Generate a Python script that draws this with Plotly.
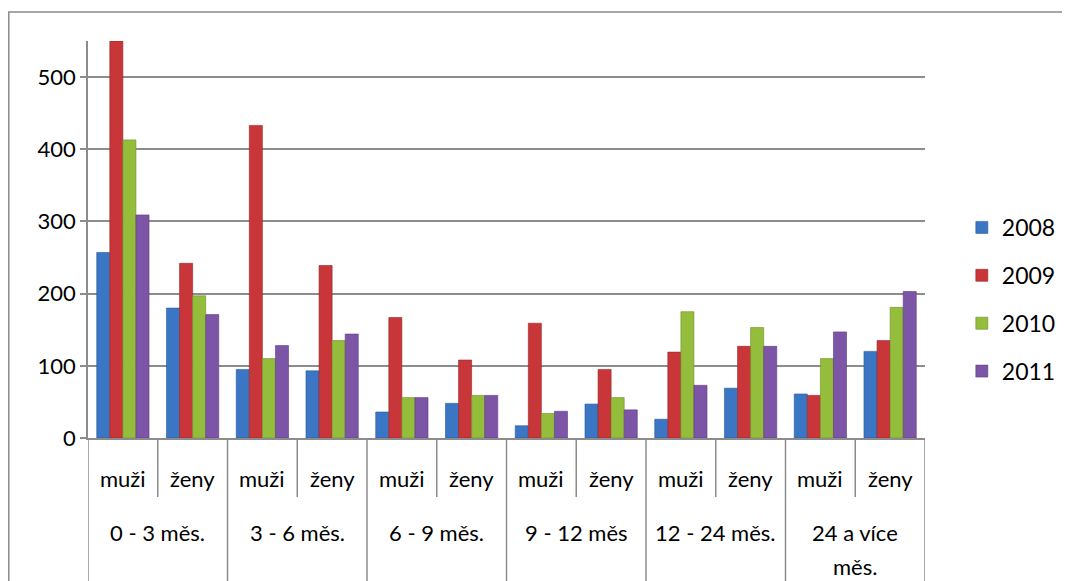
import plotly.graph_objects as go

groups = ["0 - 3 měs.", "3 - 6 měs.", "6 - 9 měs.", "9 - 12 měs", "12 - 24 měs.", "24 a více měs."]
group_lines = [["0 - 3 měs."], ["3 - 6 měs."], ["6 - 9 měs."], ["9 - 12 měs"], ["12 - 24 měs."], ["24 a více", "měs."]]
sexes = ["muži", "ženy"]
years = ["2008", "2009", "2010", "2011"]

v2008 = [257, 180, 95, 93, 36, 48, 17, 47, 26, 69, 61, 120]
v2009 = [550, 242, 433, 239, 167, 108, 159, 95, 119, 127, 59, 135]
v2010 = [413, 197, 110, 135, 56, 59, 34, 56, 175, 153, 110, 181]
v2011 = [309, 171, 128, 144, 56, 59, 37, 39, 73, 127, 147, 203]

colors = ["#3A76C3", "#C8363A", "#93BD3A", "#7D55A6"]
lines = ["#2A5A98", "#962628", "#6E8F2A", "#5C3E7E"]
GRID = "#8C8C8C"
FONT = "Lato"
FS = 22

cats = [f"{g} | {s}" for g in groups for s in sexes]
inner = [s for _ in groups for s in sexes]

fig = go.Figure()
for i, (name, vals) in enumerate(zip(years, [v2008, v2009, v2010, v2011])):
    fig.add_trace(go.Bar(
        x=cats, y=vals, name=name,
        marker=dict(color=colors[i], line=dict(color=lines[i], width=0.6)),
        legendgroup=name,
    ))

# page body has an 8px margin: figure drawn at (8,8)
W, H = 1062, 573
L, R, T, B = 80, 145, 33, 143
PH = H - T - B  # plot height in px
PW = W - L - R

fig.update_layout(
    width=W, height=H,
    margin=dict(l=L, r=R, t=T, b=B, autoexpand=False),
    paper_bgcolor="white", plot_bgcolor="white",
    barmode="group", bargap=0.25, bargroupgap=0.0,
    font=dict(family=FONT, size=FS, color="black"),
    showlegend=True,
    legend=dict(x=1.044, y=0.349, xanchor="left", yanchor="middle",
                tracegroupgap=15, font=dict(size=23, family=FONT),
                itemwidth=30, bgcolor="rgba(0,0,0,0)"),
    xaxis=dict(type="category", showline=True, linecolor=GRID, linewidth=1.5,
               showticklabels=False, ticks="", showgrid=False,
               range=[-0.5, len(cats) - 0.5]),
    yaxis=dict(range=[0, 550], dtick=100, showgrid=True, gridcolor=GRID, gridwidth=1.5,
               showline=True, linecolor=GRID, linewidth=1.5, ticks="outside",
               ticklen=6, tickcolor=GRID, tickwidth=1.5, zeroline=False,
               tickfont=dict(size=FS, family=FONT)),
)

def py(px_below):
    return -px_below / PH

# sub-category labels and dividers
for i, s in enumerate(inner):
    fig.add_annotation(x=i, xref="x", y=py(40), yref="paper", text=s,
                       showarrow=False, yanchor="middle", xanchor="center",
                       font=dict(size=FS, family=FONT, color="black"))
for k in range(len(cats) + 1):
    long = (k % 2 == 0)
    fig.add_shape(type="line", xref="x", yref="paper",
                  x0=k - 0.5, x1=k - 0.5, y0=0, y1=py(150 if long else 59),
                  line=dict(color=GRID, width=1.5))

# group labels
for g, lns in enumerate(group_lines):
    for j, t in enumerate(lns):
        fig.add_annotation(x=2 * g + 0.5, xref="x", y=py(94 + 34 * j), yref="paper",
                           text=t, showarrow=False, yanchor="middle", xanchor="center",
                           font=dict(size=FS, family=FONT, color="black"))

# chart border
fig.add_shape(type="rect", xref="paper", yref="paper",
              x0=(0.8 - L) / PW, x1=(W + 5 - L) / PW,
              y0=py(200), y1=(PH + T - 4) / PH,
              line=dict(color=GRID, width=1.5), layer="below")

fig.write_html("out.html")
